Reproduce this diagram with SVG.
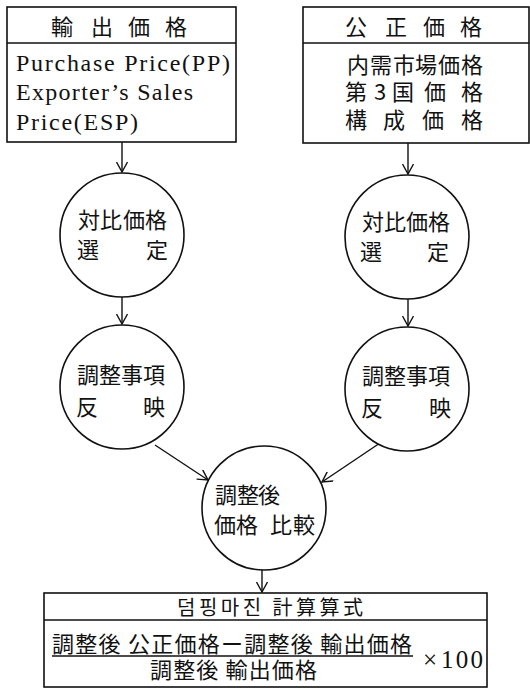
<svg xmlns="http://www.w3.org/2000/svg" width="530" height="690" viewBox="0 0 530 690">
<defs>
<style>
.box{fill:none;stroke:#111;stroke-width:1.6}
.ln{fill:none;stroke:#111;stroke-width:1.4}
.node{fill:#fff;stroke:#111;stroke-width:1.6}
.cjk{font-family:"Noto Sans CJK JP","Noto Sans CJK KR",sans-serif;font-size:22px;fill:#111;text-anchor:middle}
.lat{font-family:"Liberation Serif",serif;font-size:24px;fill:#111}
</style>
<marker id="ah" viewBox="0 0 12 12" refX="11" refY="6" markerWidth="12" markerHeight="12" markerUnits="userSpaceOnUse" orient="auto">
<path d="M1,0.5 L11,6 L1,11.5" fill="none" stroke="#111" stroke-width="1.4"/>
</marker>
</defs>
<rect width="530" height="690" fill="#fff"/>
<g id="connectors">
<line class="ln" x1="122" y1="142" x2="122" y2="172" marker-end="url(#ah)"/>
<line class="ln" x1="122" y1="297" x2="122" y2="324" marker-end="url(#ah)"/>
<line class="ln" x1="408" y1="143" x2="408" y2="174" marker-end="url(#ah)"/>
<line class="ln" x1="408" y1="299" x2="408" y2="326" marker-end="url(#ah)"/>
<line class="ln" x1="155" y1="445" x2="208" y2="480" marker-end="url(#ah)"/>
<line class="ln" x1="380" y1="443" x2="322" y2="482" marker-end="url(#ah)"/>
<line class="ln" x1="262" y1="570" x2="262" y2="592" marker-end="url(#ah)"/>
</g>
<g id="export-price">
<rect class="box" x="7" y="7" width="229" height="135"/>
<line class="box" x1="7" y1="43" x2="236" y2="43"/>
<text class="cjk" x="62 102 139 176" y="35">輸出価格</text>
<text class="lat" x="16" y="71" textLength="214" lengthAdjust="spacing">Purchase Price(PP)</text>
<text class="lat" x="16" y="100" textLength="177" lengthAdjust="spacing">Exporter’s Sales</text>
<text class="lat" x="16" y="130" textLength="122" lengthAdjust="spacing">Price(ESP)</text>
</g>
<g id="fair-price">
<rect class="box" x="303" y="7" width="226" height="136"/>
<line class="box" x1="303" y1="43" x2="529" y2="43"/>
<text class="cjk" x="356 396 434 471" y="35">公正価格</text>
<text class="cjk" x="358 381 404 426 449 472" y="73">内需市場価格</text>
<text class="cjk" x="356 380 403 435 472" y="100">第3国価格</text>
<text class="cjk" x="356 394 433 472" y="128">構成価格</text>
</g>
<g id="select-left">
<circle class="node" cx="122" cy="235" r="62"/>
<text class="cjk" x="89 111 134 156" y="228">対比価格</text>
<text class="cjk" x="88 157" y="258">選定</text>
</g>
<g id="select-right">
<circle class="node" cx="407" cy="237" r="62"/>
<text class="cjk" x="373 395 417 439" y="230">対比価格</text>
<text class="cjk" x="371 438" y="260">選定</text>
</g>
<g id="adjust-left">
<circle class="node" cx="122" cy="387" r="62"/>
<text class="cjk" x="88 110 132 154" y="383">調整事項</text>
<text class="cjk" x="87 154" y="415">反映</text>
</g>
<g id="adjust-right">
<circle class="node" cx="407" cy="389" r="62"/>
<text class="cjk" x="373 395 417 439" y="384">調整事項</text>
<text class="cjk" x="372 440" y="416">反映</text>
</g>
<g id="compare">
<circle class="node" cx="264" cy="508" r="62"/>
<text class="cjk" x="226 248 269" y="503">調整後</text>
<text class="cjk" x="225 247 281 304" y="533">価格比較</text>
</g>
<g id="formula">
<rect class="box" x="44" y="593" width="443" height="94"/>
<line class="box" x1="44" y1="620" x2="487" y2="620"/>
<text class="cjk" x="270" y="615" style="font-size:20px" textLength="186" lengthAdjust="spacing">덤핑마진 計算算式</text>
<text class="cjk" x="52" y="652" style="text-anchor:start" textLength="360" lengthAdjust="spacing">調整後 公正価格ー調整後 輸出価格</text>
<line class="ln" x1="52" y1="656" x2="413" y2="656"/>
<text class="cjk" x="150" y="678" style="text-anchor:start" textLength="167" lengthAdjust="spacing">調整後 輸出価格</text>
<text class="lat" y="668" style="font-size:25px"><tspan x="423">×</tspan><tspan x="441" textLength="42" lengthAdjust="spacing">100</tspan></text>
</g>
</svg>
